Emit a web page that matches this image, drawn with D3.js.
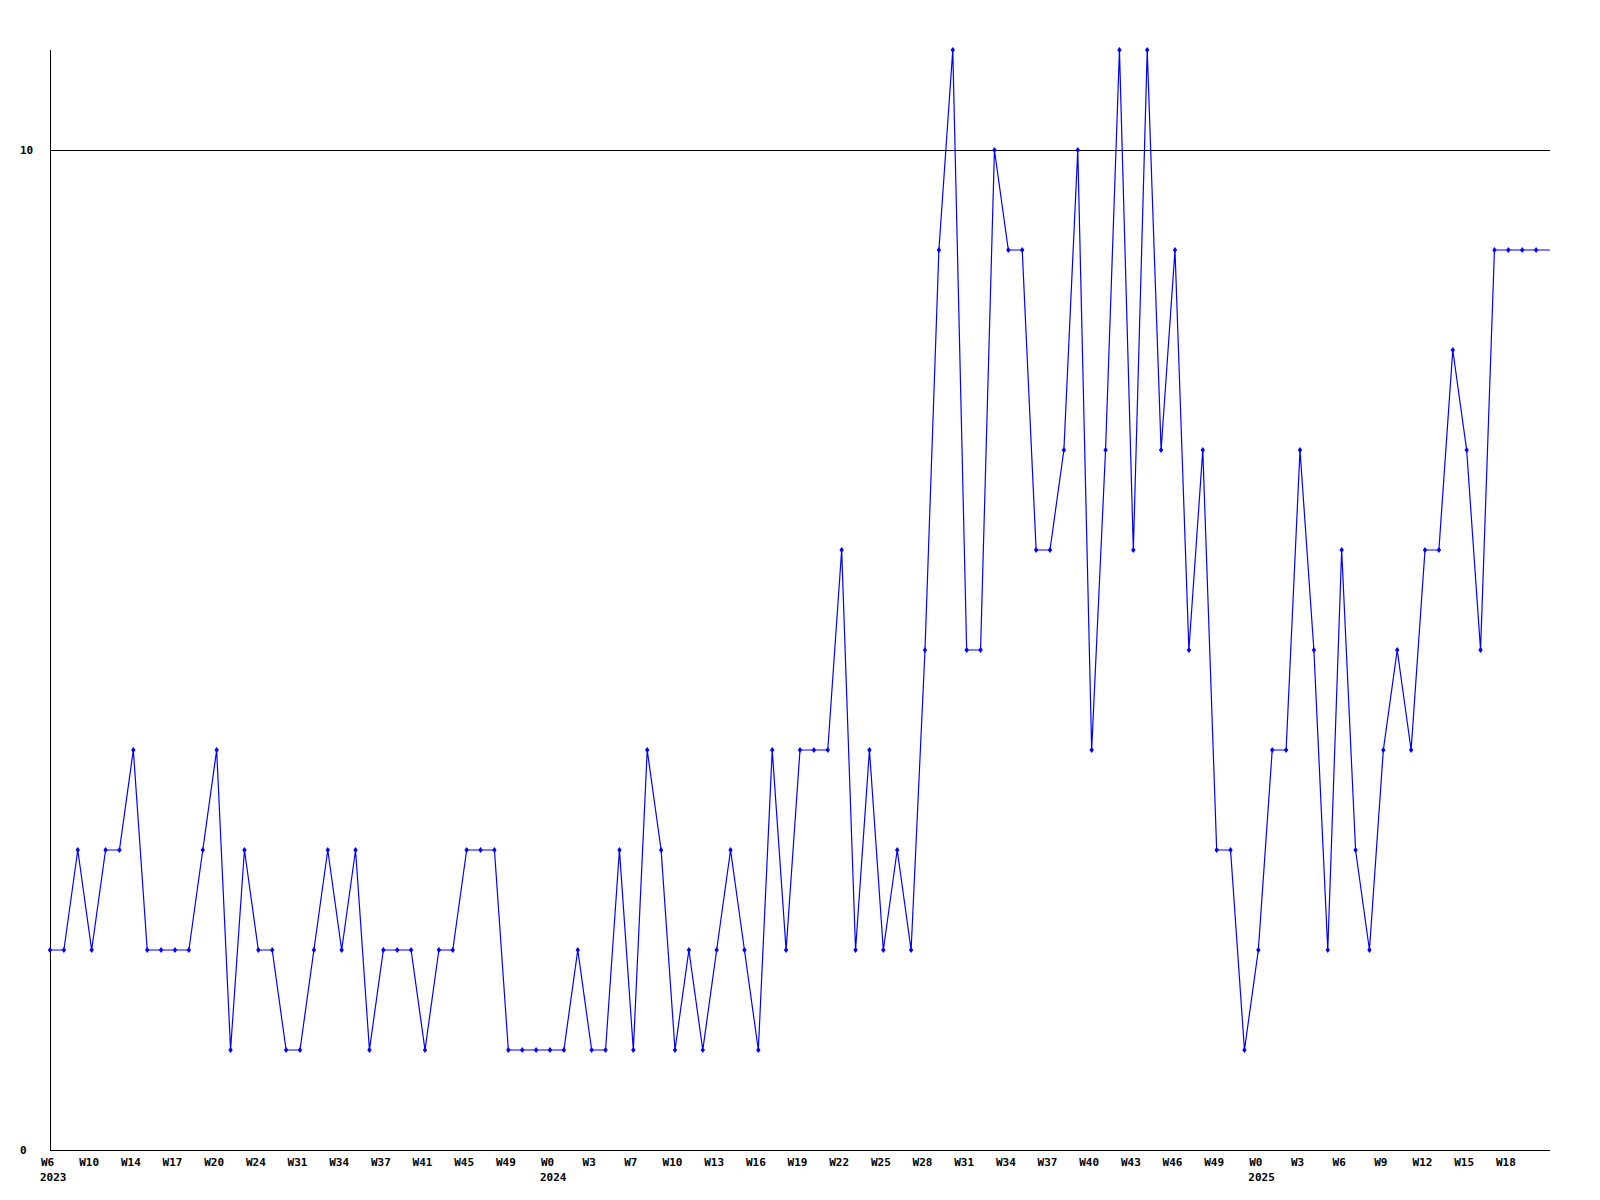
<!DOCTYPE html>
<html>
<head>
<meta charset="utf-8">
<script src="https://cdn.jsdelivr.net/npm/d3@7"></script>
<style>
  html, body { margin: 0; padding: 0; background: #ffffff; }
  svg { display: block; }
  text { font-family: "DejaVu Sans Mono", "Liberation Mono", monospace; font-weight: bold; font-size: 11px; fill: #000; }
</style>
</head>
<body>
<svg id="chart" width="1600" height="1200"></svg>
<script>
// Weekly counts, one per point (108 points)
const values = [
  2,2,3,2,3,3,4,2,2,2,
  2,3,4,1,3,2,2,1,1,2,
  3,2,3,1,2,2,2,1,2,2,
  3,3,3,1,1,1,1,1,2,1,
  1,3,1,4,3,1,2,1,2,3,
  2,1,4,2,4,4,4,6,2,4,
  2,3,2,5,9,11,5,5,10,9,
  9,6,6,7,10,4,7,11,6,11,
  7,9,5,7,3,3,1,2,4,4,
  7,5,2,6,3,2,4,5,4,6,
  6,8,7,5,9,9,9,9
];
// Tick labels, one every 3rd point
const weekLabels = [
  "W6","W10","W14","W17","W20","W24","W31","W34","W37","W41","W45","W49",
  "W0","W3","W7","W10","W13","W16","W19","W22","W25","W28","W31","W34","W37","W40","W43","W46","W49",
  "W0","W3","W6","W9","W12","W15","W18"
];
const tickStep = 3;
// Year labels and the point index where they start
const yearLabels = ["2023","2024","2025"];
const yearIndex = [0, 36, 87];
const yTicks = [0, 10];
const yMax = 11;

(function () {
const svg = d3.select("#chart");
const mLeft = 50, mRight = 1550, mTop = 50, mBottom = 1150;

const x = d3.scaleLinear().domain([0, values.length]).range([mLeft, mRight]);
const y = d3.scaleLinear().domain([0, yMax]).range([mBottom, mTop]);

// gridline at 10
svg.append("g").selectAll("line").data(yTicks.filter(t => t > 0)).join("line")
  .attr("x1", mLeft).attr("x2", mRight)
  .attr("y1", d => y(d) + 0.5).attr("y2", d => y(d) + 0.5)
  .attr("stroke", "#000").attr("stroke-width", 1);

// axes lines
svg.append("line").attr("x1", mLeft + 0.5).attr("x2", mLeft + 0.5).attr("y1", mTop).attr("y2", mBottom + 0.5)
  .attr("stroke", "#000").attr("stroke-width", 1);
svg.append("line").attr("x1", mLeft).attr("x2", mRight).attr("y1", mBottom + 0.5).attr("y2", mBottom + 0.5)
  .attr("stroke", "#000").attr("stroke-width", 1);

// y tick labels
svg.append("g").selectAll("text").data(yTicks).join("text")
  .attr("x", 20).attr("y", d => y(d) + 4)
  .attr("text-anchor", "start")
  .text(d => d);

// x tick labels via axis
const tickVals = weekLabels.map((_, i) => i * tickStep);
const xAxis = d3.axisBottom(x).tickValues(tickVals)
  .tickFormat((d, i) => weekLabels[i]).tickSize(0).tickPadding(0);
const gx = svg.append("g").attr("transform", `translate(0,${mBottom})`).call(xAxis);
gx.select(".domain").remove();
gx.selectAll("text")
  .attr("y", 16).attr("dy", null).attr("dx", -3)
  .style("font-family", "'DejaVu Sans Mono', monospace")
  .style("font-weight", "bold").style("font-size", "11px").style("fill", "#000");

// year labels
svg.append("g").selectAll("text").data(yearLabels).join("text")
  .attr("x", (d, i) => x(yearIndex[i]) - 10)
  .attr("y", mBottom + 31)
  .attr("text-anchor", "start")
  .text(d => d);

// line
const pts = values.map((v, i) => [i, v]);
const line = d3.line().x(d => x(d[0])).y(d => y(d[1]));
svg.append("path")
  .datum(pts.concat([[values.length, values[values.length - 1]]]))
  .attr("d", line)
  .attr("fill", "none").attr("stroke", "#0000ff").attr("stroke-width", 1.2);

// markers
svg.append("g").selectAll("path").data(pts).join("path")
  .attr("transform", d => `translate(${x(d[0])},${y(d[1])})`)
  .attr("d", "M0,-3L2.2,0L0,3L-2.2,0Z")
  .attr("fill", "#0000ff");
})();
</script>
</body>
</html>
